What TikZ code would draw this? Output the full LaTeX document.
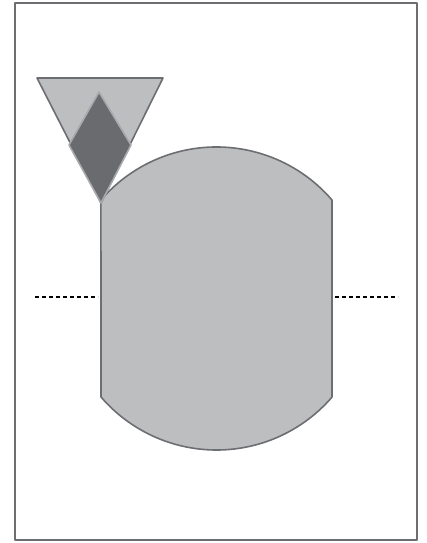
\documentclass[tikz,border=0pt]{standalone}
\usepackage{tikz}
\usetikzlibrary{calc}

\definecolor{edgegray}{HTML}{6D6E71}
\definecolor{lightfill}{HTML}{BCBEC0}
\definecolor{darkfill}{HTML}{6A6B6F}
\definecolor{paleedge}{HTML}{A7A9AC}

\begin{document}
\begin{tikzpicture}[x=1pt, y=1pt, line join=round]
    \useasboundingbox (0,0) rectangle (426,543);
    % 外框
    \draw[edgegray, line width=1.6pt] (15,3) rectangle (417,540);
    
    % 工件（鼓形）
    \filldraw[fill=lightfill, draw=edgegray, line width=1.6pt]
        (332,146) -- (332,343) arc (40.7:139.3:152.4)
        -- (101,146) arc (220.7:319.3:152.4) -- cycle;
    
    % 中心线
    \draw[black, line width=1.3pt, dash pattern=on 4pt off 3pt] (35,246) -- (98,246);
    \draw[black, line width=1.3pt, dash pattern=on 4pt off 3pt] (335,246) -- (398,246);
    
    % 刀具
    \filldraw[fill=lightfill, draw=edgegray, line width=1.6pt]
        (37,465) -- (163,465) -- (101,340) -- cycle;
    \filldraw[fill=darkfill, draw=paleedge, line width=1.6pt]
        (99,451) -- (131,398) -- (101,340) -- (69,398) -- cycle;
\end{tikzpicture}
\end{document}
